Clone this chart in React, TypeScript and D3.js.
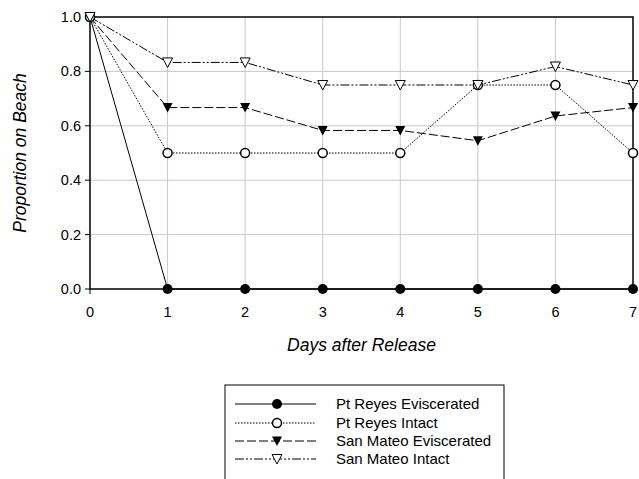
import React from "react";
import * as d3 from "d3";

const days = [0, 1, 2, 3, 4, 5, 6, 7];
const yTicks = [0, 0.2, 0.4, 0.6, 0.8, 1.0];
const ptReyesEviscerated = [1, 0, 0, 0, 0, 0, 0, 0];
const ptReyesIntact = [1, 0.5, 0.5, 0.5, 0.5, 0.75, 0.75, 0.5];
const sanMateoEviscerated = [1, 0.667, 0.667, 0.583, 0.583, 0.545, 0.636, 0.667];
const sanMateoIntact = [1, 0.833, 0.833, 0.75, 0.75, 0.75, 0.818, 0.75];

const seriesNames = ["Pt Reyes Eviscerated", "Pt Reyes Intact", "San Mateo Eviscerated", "San Mateo Intact"];

const FONT = "Arial, 'Liberation Sans', sans-serif";

type S = { name: string; values: number[]; dash: string; marker: "fcircle" | "ocircle" | "ftri" | "otri" };
const series: S[] = [
  { name: seriesNames[0], values: ptReyesEviscerated, dash: "", marker: "fcircle" },
  { name: seriesNames[1], values: ptReyesIntact, dash: "1.5,1.5", marker: "ocircle" },
  { name: seriesNames[2], values: sanMateoEviscerated, dash: "9,3", marker: "ftri" },
  { name: seriesNames[3], values: sanMateoIntact, dash: "9,2,2,2,2,2", marker: "otri" },
];

function Marker({ kind, x, y }: { kind: S["marker"]; x: number; y: number }) {
  if (kind === "fcircle") return <circle cx={x} cy={y} r={5} fill="#000" />;
  if (kind === "ocircle") return <circle cx={x} cy={y} r={4.5} fill="#fff" stroke="#000" strokeWidth={1.5} />;
  const pts = `${x - 5},${y - 4.5} ${x + 5},${y - 4.5} ${x},${y + 5}`;
  if (kind === "ftri") return <polygon points={pts} fill="#000" />;
  return <polygon points={pts} fill="#fff" stroke="#000" strokeWidth={1} />;
}

export default function App() {
  const W = 639, H = 479;
  const x = d3.scaleLinear().domain([0, 7]).range([90, 633]);
  const y = d3.scaleLinear().domain([0, 1]).range([289, 17]);
  const line = d3.line<number>().x((_, i) => x(days[i])).y((d) => y(d));

  const legendRows = [404, 423, 441, 459];

  return (
    <svg width={W} height={H} style={{ position: "absolute", left: 0, top: 0 }} fontFamily={FONT}>
      <rect width={W} height={H} fill="#fff" />
      {/* grid */}
      {days.slice(1, -1).map((d) => (
        <line key={"gx" + d} x1={x(d)} x2={x(d)} y1={y(1)} y2={y(0)} stroke="#c8c8c8" strokeWidth={1} />
      ))}
      {yTicks.slice(1, -1).map((t) => (
        <line key={"gy" + t} x1={x(0)} x2={x(7)} y1={y(t)} y2={y(t)} stroke="#c8c8c8" strokeWidth={1} />
      ))}
      {/* frame */}
      <rect x={x(0)} y={y(1)} width={x(7) - x(0)} height={y(0) - y(1)} fill="none" stroke="#000" strokeWidth={1.5} />
      {/* y ticks */}
      {yTicks.map((t) => (
        <g key={"yt" + t}>
          <line x1={x(0) - 5} x2={x(0)} y1={y(t)} y2={y(t)} stroke="#000" strokeWidth={1} />
          <text x={x(0) - 9} y={y(t)} dy="0.35em" textAnchor="end" fontSize={14.5}>
            {t.toFixed(1)}
          </text>
        </g>
      ))}
      {days.map((d) => (
        <g key={"xt" + d}>
          <line x1={x(d)} x2={x(d)} y1={y(0)} y2={y(0) + 5} stroke="#000" strokeWidth={1} />
          <text x={x(d)} y={y(0) + 28} textAnchor="middle" fontSize={14.5}>
            {d}
          </text>
        </g>
      ))}
      <text x={(x(0) + x(7)) / 2} y={351} textAnchor="middle" fontSize={17.5} fontStyle="italic">
        Days after Release
      </text>
      <text transform={`translate(26,${(y(0) + y(1)) / 2}) rotate(-90)`} textAnchor="middle" fontSize={17.5} fontStyle="italic">
        Proportion on Beach
      </text>
      {/* series */}
      {series.map((s) => (
        <path key={s.name} d={line(s.values) || ""} fill="none" stroke="#000" strokeWidth={1} strokeDasharray={s.dash} />
      ))}
      {series.map((s) => (
        <g key={s.name + "m"}>
          {s.values.map((v, i) => (
            <Marker key={i} kind={s.marker} x={x(days[i])} y={y(v)} />
          ))}
        </g>
      ))}
      {/* legend */}
      <rect x={225} y={385} width={279} height={110} fill="#fff" stroke="#000" strokeWidth={1} />
      {series.map((s, i) => (
        <g key={s.name + "l"}>
          <line x1={235} x2={316} y1={legendRows[i]} y2={legendRows[i]} stroke="#000" strokeWidth={1} strokeDasharray={s.dash} />
          <Marker kind={s.marker} x={277} y={legendRows[i]} />
          <text x={336} y={legendRows[i]} dy="0.35em" fontSize={15}>
            {s.name}
          </text>
        </g>
      ))}
    </svg>
  );
}
